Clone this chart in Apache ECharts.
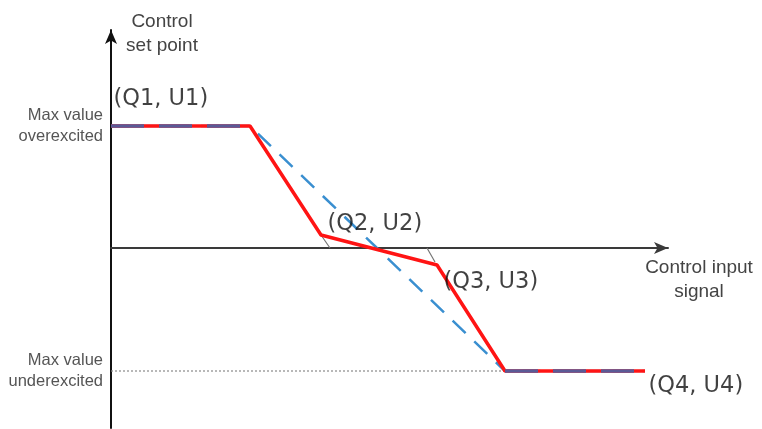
<!DOCTYPE html>
<html>
<head>
<meta charset="utf-8">
<script src="https://cdn.jsdelivr.net/npm/echarts@6/dist/echarts.min.js"></script>
<style>html,body{margin:0;padding:0;background:#fff}#c{width:762px;height:429px}</style>
</head>
<body>
<div id="c"></div>
<script>
// Characteristic points (Q = control input, U = set point), in arbitrary diagram units
const redQ = [0, 139, 210, 326, 394, 534];
const redU = [122, 122, 13, -17, -123, -123];
const redLabels = ['(Q1, U1)', '', '(Q2, U2)', '(Q3, U3)', '', '(Q4, U4)'];
const blueQ = [0, 139, 394, 534];
const blueU = [122, 122, -123, -123];
const flatQ = [0, 139, null, 394, 534];
const flatU = [122, 122, null, -123, -123];
const tickQ = [210, 219, null, 316, 324];
const tickU = [13, 0, null, 0, -14];
const minLineQ = [0, 394];
const minLineU = [-123, -123];
const yLevels = [122, -123];
const yLevelNames = ['Max value\noverexcited', 'Max value\nunderexcited'];

const labelFont = '"DejaVu Sans", "Open Sans", sans-serif';
const sansFont = '"Liberation Sans", Arial, sans-serif';
const labelOffsets = [[3, -26], null, [7, -10], [7, 18], null, [4, 16]];

const zip = (a, b) => a.map((v, i) => (v === null ? [null, null] : [v, b[i]]));

const labelData = [];
redQ.forEach((q, i) => {
  if (!redLabels[i]) return;
  labelData.push({
    value: [q, redU[i]],
    label: {
      show: true,
      formatter: redLabels[i],
      position: labelOffsets[i],
      align: 'left',
      verticalAlign: 'middle',
      fontSize: 22.5,
      fontFamily: labelFont,
      color: '#111'
    }
  });
});

const chart = echarts.init(document.getElementById('c'));
chart.setOption({
  animation: false,
  backgroundColor: '#fff',
  grid: { left: 111, right: 94, top: 30, bottom: 1 },
  xAxis: {
    type: 'value', min: 0, max: 557,
    axisLine: { show: true, onZero: true, symbol: ['none', 'arrow'], symbolSize: [9, 14],
      lineStyle: { color: '#3a3a3a', width: 2 } },
    axisTick: { show: false }, axisLabel: { show: false }, splitLine: { show: false }
  },
  yAxis: {
    type: 'value', min: -180, max: 218,
    axisLine: { show: true, onZero: false, symbol: ['none', 'arrow'], symbolSize: [9, 14],
      lineStyle: { color: '#111', width: 2 } },
    axisTick: { show: false },
    splitLine: { show: false },
    axisLabel: {
      show: true,
      customValues: yLevels,
      formatter: v => yLevelNames[yLevels.indexOf(v)] || '',
      margin: 8,
      fontSize: 16.5,
      lineHeight: 21,
      color: '#555',
      fontFamily: sansFont,
      align: 'right'
    }
  },
  graphic: [
    { type: 'text', x: 162, y: 34, style: { text: 'Control\nset point', fill: '#444', fontSize: 19, lineHeight: 24,
      fontFamily: sansFont, align: 'center', verticalAlign: 'middle' } },
    { type: 'text', x: 699, y: 280, style: { text: 'Control input\nsignal', fill: '#444', fontSize: 19, lineHeight: 24,
      fontFamily: sansFont, align: 'center', verticalAlign: 'middle' } }
  ],
  series: [
    { type: 'line', data: zip(minLineQ, minLineU), symbol: 'none', silent: true,
      lineStyle: { color: '#8a8a8a', width: 1.2, type: [2, 2] }, z: 1 },
    { type: 'line', data: zip(tickQ, tickU), symbol: 'none', silent: true, connectNulls: false,
      lineStyle: { color: '#777', width: 1.2 }, z: 1 },
    { type: 'line', data: zip(redQ, redU), symbol: 'none', silent: true,
      lineStyle: { color: '#ff1414', width: 3.5 }, z: 3 },
    { type: 'line', data: zip(blueQ, blueU), symbol: 'none', silent: true,
      lineStyle: { color: '#3a8fd0', width: 2.5, type: [18, 12] }, z: 2 },
    { type: 'line', data: zip(flatQ, flatU), symbol: 'none', silent: true, connectNulls: false,
      lineStyle: { color: '#5b5a96', width: 3.5, type: [33, 15] }, z: 4 },
    { type: 'scatter', data: labelData, symbolSize: 1, silent: true,
      itemStyle: { color: 'rgba(0,0,0,0)' }, z: 5 }
  ]
});
</script>
</body>
</html>
